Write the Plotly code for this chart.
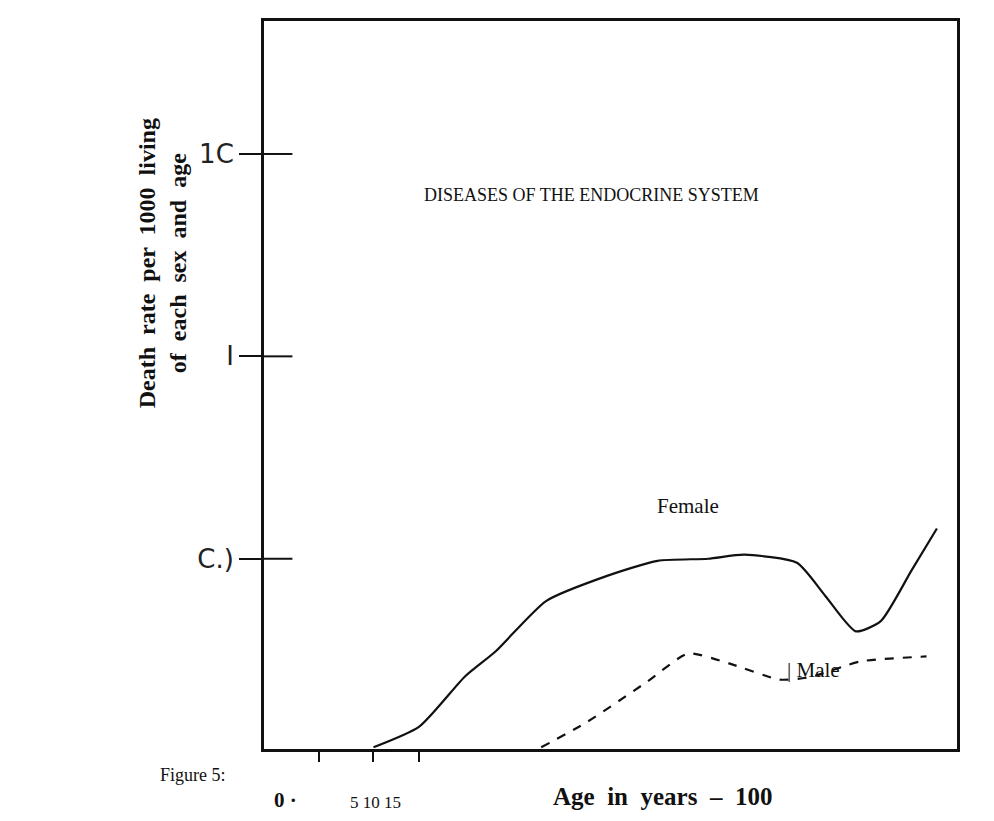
import plotly.graph_objects as go

# ages (years) and death rates per 1000
female_age = [15.8, 22.4, 29.0, 33.4, 40.7, 49.5, 56.8, 64.1, 69.3, 76.9, 81.0, 85.4, 89.0, 93.4, 97.1]
female_rate = [0.0117, 0.0148, 0.0262, 0.0348, 0.0618, 0.0823, 0.0977, 0.100, 0.1047, 0.0955,
               0.0655, 0.0438, 0.0492, 0.0871, 0.141]
male_age = [40.0, 46.6, 55.3, 61.2, 67.1, 74.4, 78.8, 86.1, 95.6]
male_rate = [0.0117, 0.0156, 0.0247, 0.034, 0.0304, 0.0253, 0.026, 0.0311, 0.0329]

y_ticks = [10, 1, 0.1]
y_tick_text = ["1C", "I", "C.)"]
x_ticks = [8, 15.8, 22.4]

serif = "Liberation Serif, Times New Roman, serif"
L, R, T, B = 262, 945, 14, 737

fig = go.Figure()
fig.add_trace(go.Scatter(x=female_age, y=female_rate, mode="lines",
                         line=dict(color="#111", width=2.2, shape="spline", smoothing=0.6)))
fig.add_trace(go.Scatter(x=male_age, y=male_rate, mode="lines",
                         line=dict(color="#111", width=2.2, dash="dash", shape="spline", smoothing=0.6)))

fig.update_xaxes(range=[0, 100], showgrid=False, zeroline=False, showline=True, linecolor="#111", linewidth=3,
                 mirror=True, tickvals=x_ticks, ticktext=["", "", ""], ticks="outside", ticklen=10,
                 tickwidth=2, tickcolor="#111")
fig.update_yaxes(type="log", range=[-1.94, 1.657], showgrid=False, zeroline=False, showline=True,
                 linecolor="#111", linewidth=3, mirror=True, tickvals=y_ticks, ticktext=y_tick_text,
                 ticks="outside", ticklen=22, tickwidth=2, tickcolor="#111",
                 tickfont=dict(family="DejaVu Sans", size=26, color="#222"))

# tick marks continue a little inside the frame
for v in y_ticks:
    fig.add_shape(type="line", xref="paper", yref="y", x0=0, x1=28 / (R - L), y0=v, y1=v,
                  line=dict(color="#111", width=2))

ann = [
    dict(x=585, y=175, text="DISEASES OF THE ENDOCRINE SYSTEM", size=18, bold=False),
    dict(x=680, y=510, text="Female", size=21, bold=False),
    dict(x=832, y=672, text="| Male", size=21, bold=False),
    dict(x=158, y=775, text="Figure 5:", size=18, bold=False),
    dict(x=270, y=802, text="0 ·", size=21, bold=True),
    dict(x=345, y=802, text="5 10 15", size=17, bold=False),
    dict(x=765, y=800, text="Age  in  years  –  100", size=25, bold=True),
]
for a in ann:
    t = f"<b>{a['text']}</b>" if a["bold"] else a["text"]
    fig.add_annotation(x=(a["x"] - L) / (R - L), y=(B - a["y"]) / (B - T), xref="paper", yref="paper",
                       text=t, showarrow=False, font=dict(family=serif, size=a["size"], color="#111"))

fig.add_annotation(x=(132 - L) / (R - L), y=(B - 255) / (B - T), xref="paper", yref="paper", textangle=-90,
                   text="<b>Death  rate  per  1000  living<br>of  each  sex  and  age</b>",
                   showarrow=False, font=dict(family=serif, size=24, color="#111"))

fig.update_layout(width=994, height=821, showlegend=False, paper_bgcolor="white", plot_bgcolor="white",
                  margin=dict(l=256, r=45, t=10, b=80))
fig.write_html("out.html")
